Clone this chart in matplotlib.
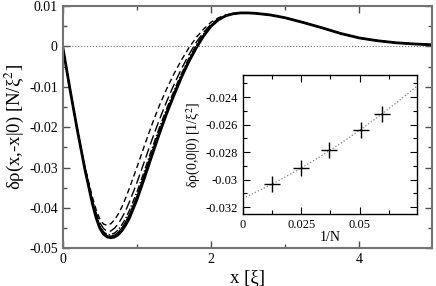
import numpy as np
import matplotlib.pyplot as plt
from matplotlib.ticker import MultipleLocator

plt.rcParams['font.family'] = ['Liberation Serif', 'DejaVu Serif']
plt.rcParams['mathtext.fontset'] = 'stix'

# main panel: density correlation for several N (head differs, tail shared)
x_head = [0, 0.1, 0.2, 0.3, 0.4, 0.45, 0.5, 0.55, 0.6, 0.65, 0.7, 0.75, 0.8,
          0.85, 0.9, 1.0, 1.1, 1.2, 1.3, 1.4, 1.5, 1.6, 1.7, 1.8, 1.9, 2.0,
          2.1, 2.2]
thick = [0, -0.0108, -0.0210, -0.0305, -0.0389, -0.0424, -0.0450, -0.0465,
         -0.0472, -0.0474, -0.0472, -0.0466, -0.0456, -0.0442, -0.0425,
         -0.0380, -0.0327, -0.0272, -0.0218, -0.0167, -0.0121, -0.0077,
         -0.0038, -0.0004, 0.0026, 0.0050, 0.0066, 0.0076]
thin = [0, -0.0108, -0.0210, -0.0304, -0.0387, -0.0421, -0.0446, -0.0462,
        -0.0469, -0.0470, -0.0467, -0.0460, -0.0449, -0.0434, -0.0416,
        -0.0371, -0.0318, -0.0264, -0.0211, -0.0162, -0.0116, -0.0073,
        -0.0034, -0.0001, 0.0028, 0.0051, 0.0067, 0.0076]
dashdot = [0, -0.0108, -0.0210, -0.0303, -0.0385, -0.0418, -0.0443, -0.0459,
           -0.0466, -0.0466, -0.0462, -0.0454, -0.0441, -0.0426, -0.0406,
           -0.0361, -0.0309, -0.0255, -0.0203, -0.0155, -0.0110, -0.0068,
           -0.0030, 0.0003, 0.0031, 0.0053, 0.0068, 0.0077]
longdash = [0, -0.0108, -0.0209, -0.0301, -0.0380, -0.0412, -0.0436, -0.0451,
            -0.0458, -0.0457, -0.0450, -0.0439, -0.0424, -0.0406, -0.0385,
            -0.0338, -0.0286, -0.0233, -0.0183, -0.0137, -0.0095, -0.0056,
            -0.0021, 0.0010, 0.0035, 0.0055, 0.0069, 0.0077]
shortdash = [0, -0.0108, -0.0208, -0.0298, -0.0373, -0.0404, -0.0427, -0.0440,
             -0.0443, -0.0439, -0.0429, -0.0415, -0.0397, -0.0375, -0.0351,
             -0.0300, -0.0247, -0.0195, -0.0148, -0.0106, -0.0068, -0.0034,
             -0.0004, 0.0022, 0.0043, 0.0060, 0.0071, 0.0078]
x_tail = [2.3, 2.4, 2.5, 2.6, 2.8, 3.0, 3.25, 3.5, 3.75, 4.0, 4.25, 4.5, 4.75, 5.0]
tail = [0.0081, 0.0083, 0.0083, 0.0082, 0.0078, 0.0071, 0.0059, 0.0046,
        0.0032, 0.0021, 0.0014, 0.0009, 0.0006, 0.0004]

# inset: value at origin vs 1/N
inv_n = [0.0125, 0.025, 0.0371, 0.0504, 0.0596]
rho0 = [-0.03032, -0.02916, -0.02787, -0.02639, -0.02521]

fig = plt.figure(figsize=(4.36, 2.86), dpi=100)
ax = fig.add_axes([0.1438, 0.1318, 0.847, 0.847])

xs = x_head + x_tail
styles = [(thick, '-', 2.0), (thin, '-', 1.0), (dashdot, (0, (5, 1.5, 1, 1.5)), 1.0),
          (longdash, (0, (7, 3)), 1.0), (shortdash, (0, (4, 2.5)), 1.0)]
for head, ls, lw in styles:
    ax.plot(xs, head + tail, color='black', ls=ls, lw=lw)
ax.axhline(0, color='0.45', ls=':', lw=0.8)

ax.set_xlim(0, 4.98)
ax.set_ylim(-0.05, 0.01)
ax.xaxis.set_major_locator(MultipleLocator(2))
ax.xaxis.set_minor_locator(MultipleLocator(1))
ax.yaxis.set_major_locator(MultipleLocator(0.01))
ax.yaxis.set_minor_locator(MultipleLocator(0.005))
ax.tick_params(which='both', direction='in', top=True, right=True, labelsize=10,
               color='0.3')
ax.tick_params(which='major', length=5, width=1)
ax.tick_params(which='minor', length=3, width=1)
ax.yaxis.set_major_formatter(plt.FuncFormatter(lambda v, p: '0' if abs(v) < 1e-9 else f'{v:g}'))
for s in ax.spines.values():
    s.set_color('0.45')
    s.set_linewidth(1.5)
ax.set_xlabel('x [ξ]', fontsize=13.5, labelpad=2)
ax.set_ylabel('δρ(x,-x|0) [N/ξ$^2$]', fontsize=13.5, labelpad=2)

# inset
ins = fig.add_axes([0.557, 0.2517, 0.399, 0.486])
coef = np.polyfit(inv_n, rho0, 2)
xf = np.linspace(0, 0.0745, 100)
ins.plot(xf, np.polyval(coef, xf), color='0.5', ls=':', lw=0.9)
ins.plot(inv_n, rho0, ls='none', marker='+', color='black', ms=11, mew=1)
ins.set_xlim(0, 0.0745)
ins.set_ylim(-0.0325, -0.0224)
ins.xaxis.set_major_locator(MultipleLocator(0.025))
ins.xaxis.set_minor_locator(MultipleLocator(0.0125))
ins.yaxis.set_major_locator(MultipleLocator(0.002))
ins.yaxis.set_minor_locator(MultipleLocator(0.001))
ins.xaxis.set_major_formatter(plt.FuncFormatter(lambda v, p: '0' if abs(v) < 1e-9 else f'{v:g}'))
ins.yaxis.set_major_formatter(plt.FuncFormatter(lambda v, p: f'{v:g}'))
ins.tick_params(which='both', direction='in', top=True, right=True, labelsize=9)
ins.tick_params(which='major', length=5, width=0.8)
ins.tick_params(which='minor', length=3, width=0.8)
for s in ins.spines.values():
    s.set_linewidth(1.0)
ins.set_xlabel('1/N', fontsize=10, labelpad=0)
ins.set_ylabel('δρ(0,0|0) [1/ξ$^2$]', fontsize=10, labelpad=2)

fig.savefig('out.png', dpi=100)
